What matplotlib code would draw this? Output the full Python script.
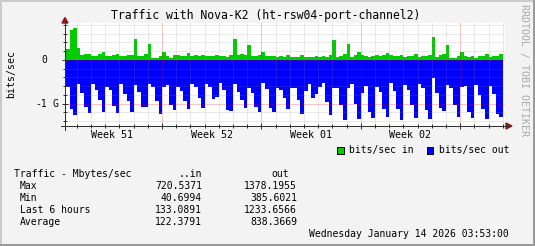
import numpy as np
import pandas as pd
import matplotlib
matplotlib.use('Agg')
import matplotlib.pyplot as plt
import matplotlib.dates as mdates
import matplotlib.transforms as mtransforms
from matplotlib.patches import Polygon, Rectangle
from matplotlib.lines import Line2D

# rrdtool 기본 폰트와 비슷하게
plt.rcParams['font.family'] = 'DejaVu Sans Mono'
plt.rcParams['font.size'] = 7

W, H = 535, 246

# 6시간 평균 트래픽 (G bits/sec)
in_traffic = [0.25, 0.67, 0.72, 0.28, 0.12, 0.14, 0.14, 0.09, 0.09, 0.14, 0.17, 0.09, 0.09, 0.12, 0.14, 0.08,
              0.09, 0.12, 0.12, 0.48, 0.09, 0.09, 0.14, 0.35, 0.05, 0.05, 0.09, 0.17, 0.09, 0.05, 0.12,
              0.11, 0.08, 0.09, 0.15, 0.09, 0.11, 0.09, 0.12, 0.09, 0.08, 0.09, 0.11, 0.08, 0.09, 0.06,
              0.12, 0.48, 0.11, 0.14, 0.12, 0.33, 0.09, 0.08, 0.12, 0.17, 0.09, 0.08, 0.09, 0.06, 0.09,
              0.06, 0.11, 0.06, 0.06, 0.06, 0.11, 0.06, 0.06, 0.06, 0.08, 0.06, 0.08, 0.06, 0.11, 0.45,
              0.06, 0.08, 0.14, 0.35, 0.06, 0.11, 0.18, 0.11, 0.08, 0.06, 0.08, 0.11, 0.08, 0.12, 0.16,
              0.11, 0.09, 0.09, 0.11, 0.06, 0.09, 0.09, 0.14, 0.06, 0.09, 0.09, 0.11, 0.51, 0.06, 0.11,
              0.14, 0.34, 0.05, 0.05, 0.09, 0.18, 0.09, 0.06, 0.09, 0.05, 0.09, 0.09, 0.14, 0.06, 0.09,
              0.09, 0.14]
out_traffic = [0.63, 1.12, 1.26, 0.55, 0.76, 1.07, 1.21, 0.55, 0.70, 0.92, 1.18, 0.63, 0.70, 1.05, 1.21, 0.55,
               0.78, 0.95, 1.19, 0.57, 0.73, 1.07, 1.07, 0.55, 0.63, 0.95, 1.24, 0.61, 0.57, 1.03, 1.15,
               0.61, 0.71, 0.94, 1.12, 0.55, 0.63, 0.88, 1.11, 0.55, 0.61, 0.89, 0.84, 0.53, 0.69, 1.15,
               1.17, 0.55, 0.74, 0.92, 1.09, 0.65, 0.76, 1.07, 1.20, 0.53, 0.66, 1.11, 1.18, 0.65, 0.68,
               0.88, 1.12, 0.64, 0.64, 0.91, 1.23, 0.71, 0.56, 0.88, 0.79, 0.63, 0.52, 0.96, 1.25, 0.64,
               0.64, 1.04, 1.38,
               0.65, 0.56, 1.00, 1.35, 0.75, 0.60, 1.19, 1.33, 0.63, 0.73, 1.12, 1.31, 0.54, 0.72, 1.12,
               1.37, 0.58, 0.69, 1.04, 1.33, 0.56, 0.65,
               1.15, 1.36, 0.41, 0.75, 1.10, 1.17, 0.58, 0.65, 1.04, 1.31, 0.62, 0.60, 1.19, 1.33, 0.58,
               0.81, 1.12, 1.35, 0.60, 0.78, 1.23, 1.31]

week_starts = ['2025-12-14', '2025-12-21', '2025-12-28', '2026-01-04']
week_labels = ['Week 51', 'Week 52', 'Week 01', 'Week 02']

ytick_values = [-1, 0]
ytick_numbers = ['-1', '0']
ytick_units = ['G', '']

stat_names = ['Max', 'Min', 'Last 6 hours', 'Average']
stat_in = ['720.5371', '40.6994', '133.0891', '122.3791']
stat_out = ['1378.1955', '385.6021', '1233.6566', '838.3669']

graph_start = pd.Timestamp('2025-12-14 03:53')
graph_end = pd.Timestamp('2026-01-14 03:53')
first_sample = pd.Timestamp('2025-12-14 06:00')


def fx(px):
    return px / W


def fy(py):
    return 1 - py / H


fig = plt.figure(figsize=(W / 100, H / 100), dpi=100, facecolor='#F3F3F3')
ax = fig.add_axes([fx(65), fy(126), (505 - 65) / W, (126 - 23) / H])
ax.set_facecolor('white')

# 계단형 영역 (rrdtool AREA)
edges = pd.date_range(first_sample, periods=len(out_traffic) + 1, freq='6h')
edges = mdates.date2num(edges.to_pydatetime())
ax.stairs(in_traffic, edges, baseline=0, fill=True, color='#00CC00', linewidth=0)
ax.stairs(-np.array(out_traffic), edges, baseline=0, fill=True, color='#0000FF', linewidth=0)

ax.set_xlim(mdates.date2num(graph_start.to_pydatetime()), mdates.date2num(graph_end.to_pydatetime()))
ax.set_ylim(-1.51, 0.84)

# 격자
ax.xaxis.set_major_locator(mdates.WeekdayLocator(byweekday=mdates.SU))
ax.xaxis.set_minor_locator(mdates.DayLocator())
ax.xaxis.set_major_formatter(plt.NullFormatter())
ax.set_yticks(ytick_values)
ax.yaxis.set_major_formatter(plt.NullFormatter())
ax.set_yticks(np.arange(-1.4, 0.81, 0.2), minor=True)
ax.set_axisbelow(False)
ax.grid(which='minor', color='#8C8C8C', alpha=0.35, linestyle=(0, (1, 1)), linewidth=0.72)
ax.grid(which='major', color='#D00000', alpha=0.45, linestyle=(0, (1, 1)), linewidth=0.72)
ax.tick_params(which='major', direction='inout', length=4, width=0.72, color='#303030')
ax.tick_params(which='minor', direction='inout', length=2.5, width=0.72, color='#303030')

for side in ['top', 'right', 'left', 'bottom']:
    ax.spines[side].set_visible(False)

# y 라벨: 숫자 + 단위 (rrdtool 형식)
ytrans = mtransforms.blended_transform_factory(fig.transFigure, ax.transData)
for val, num, unit in zip(ytick_values, ytick_numbers, ytick_units):
    ax.text(fx(46.8), val, num, transform=ytrans, ha='right', va='center')
    if unit:
        ax.text(fx(52.6), val, unit, transform=ytrans, ha='left', va='center')

# 축선과 화살표
fig.add_artist(Line2D([fx(61), fx(508)], [fy(126), fy(126)], color='#303030', linewidth=0.72))
fig.add_artist(Line2D([fx(65), fx(65)], [fy(130), fy(21)], color='#303030', linewidth=0.72))
fig.add_artist(Polygon([(fx(62), fy(23)), (fx(68), fy(23)), (fx(65), fy(17.5))], closed=True,
                       color='#8B1A1A'))
fig.add_artist(Polygon([(fx(506), fy(123)), (fx(506), fy(129)), (fx(512), fy(126))], closed=True,
                       color='#8B1A1A'))

# 주 라벨 (주 중앙)
trans = mtransforms.blended_transform_factory(ax.transData, ax.transAxes)
for ws, lab in zip(week_starts, week_labels):
    xc = mdates.date2num(pd.Timestamp(ws).to_pydatetime()) + 3.5
    ax.text(xc, -(134.5 - 126) / 103, lab, transform=trans, ha='center', va='center', fontsize=7.2)

fig.text(fx(266), fy(16), 'Traffic with Nova-K2 (ht-rsw04-port-channel2)', ha='center', va='center',
         fontsize=8.3)
fig.text(fx(11), fy(74), 'bits/sec', rotation=90, ha='center', va='center', fontsize=7.1)
fig.text(fx(524), fy(70), 'RRDTOOL / TOBI OETIKER', rotation=270, ha='center', va='center',
         fontsize=7.1, color='#A8A8A8')

# 범례
fig.add_artist(Rectangle((fx(337), fy(153.5)), 6.5 / W, 6.5 / H, facecolor='#00CC00', edgecolor='black',
                         linewidth=0.72))
fig.text(fx(349), fy(150), 'bits/sec in', ha='left', va='center')
fig.add_artist(Rectangle((fx(426.5), fy(153.5)), 6.5 / W, 6.5 / H, facecolor='#0000FF', edgecolor='black',
                         linewidth=0.72))
fig.text(fx(439), fy(150), 'bits/sec out', ha='left', va='center')

# 통계 표
fig.text(fx(14), fy(174), 'Traffic - Mbytes/sec', ha='left', va='center')
fig.text(fx(202), fy(174), '..in', ha='right', va='center')
fig.text(fx(289), fy(174), 'out', ha='right', va='center')
for i, name in enumerate(stat_names):
    yy = 186 + i * 11.9
    fig.text(fx(20), fy(yy), name, ha='left', va='center')
    fig.text(fx(202), fy(yy), stat_in[i], ha='right', va='center')
    fig.text(fx(297), fy(yy), stat_out[i], ha='right', va='center')

fig.text(fx(509), fy(234), 'Wednesday January 14 2026 03:53:00', ha='right', va='center')

# 테두리
fig.add_artist(Rectangle((0, fy(2)), 1, 2 / H, color='#CBCBCB', linewidth=0))
fig.add_artist(Rectangle((0, 0), 2 / W, 1, color='#CBCBCB', linewidth=0))
fig.add_artist(Rectangle((0, 0), 1, 2 / H, color='#9A9A9A', linewidth=0))
fig.add_artist(Rectangle((fx(533), 0), 2 / W, 1, color='#9A9A9A', linewidth=0))

fig.savefig('out.png', dpi=100, facecolor=fig.get_facecolor())
